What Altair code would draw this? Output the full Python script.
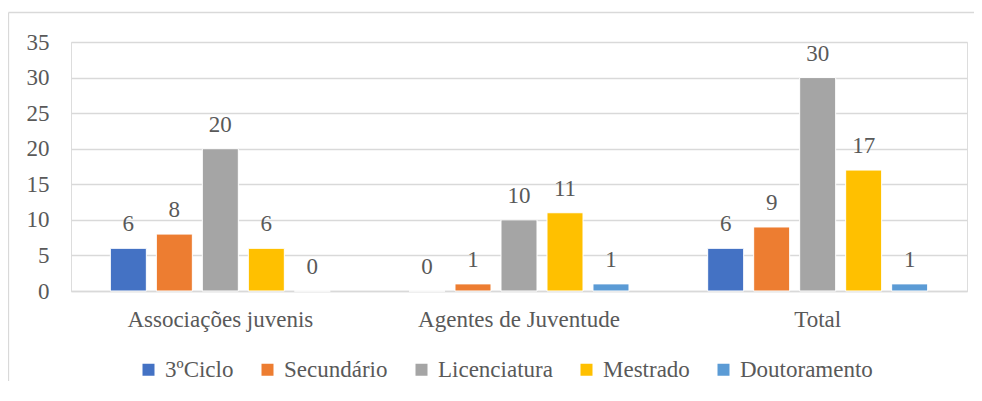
import altair as alt
import pandas as pd

categories = ["Associações juvenis", "Agentes de Juventude", "Total"]
series = ["3ºCiclo", "Secundário", "Licenciatura", "Mestrado", "Doutoramento"]
colors = ["#4472C4", "#ED7D31", "#A5A5A5", "#FFC000", "#5B9BD5"]
values_3ciclo = [6, 0, 6]
values_secundario = [8, 1, 9]
values_licenciatura = [20, 10, 30]
values_mestrado = [6, 11, 17]
values_doutoramento = [0, 1, 1]

all_vals = [values_3ciclo, values_secundario, values_licenciatura, values_mestrado, values_doutoramento]
rows = []
for s, vals in zip(series, all_vals):
    for c, v in zip(categories, vals):
        rows.append({"categoria": c, "nivel": s, "valor": v})
df = pd.DataFrame(rows)

FONT = "Liberation Serif, Times New Roman, serif"
TXT = "#595959"
W, H = 896, 249
PB = 90

x_enc = alt.X("categoria:N", sort=categories, title=None,
              scale=alt.Scale(paddingInner=0.2634, paddingOuter=0.1317),
              axis=alt.Axis(labelAngle=0, labelFont=FONT, labelFontSize=23, labelColor=TXT,
                            labelPadding=17, labelLimit=0, ticks=False, domain=True,
                            domainColor="#D9D9D9", domainWidth=1.3))
xo_enc = alt.XOffset("nivel:N", sort=series,
                     scale=alt.Scale(paddingInner=0.217, paddingOuter=0))
y_enc = alt.Y("valor:Q", title=None,
              scale=alt.Scale(domain=[0, 35], nice=False),
              axis=alt.Axis(values=[0, 5, 10, 15, 20, 25, 30, 35], grid=True, gridColor="#D9D9D9",
                            gridWidth=1.3, domain=False, ticks=False, labelFont=FONT,
                            labelFontSize=23, labelColor=TXT, labelPadding=22,
                            labelOverlap=False))
color_enc = alt.Color("nivel:N", sort=series,
                      scale=alt.Scale(domain=series, range=colors),
                      legend=alt.Legend(title=None, orient="none", direction="horizontal",
                                        legendX=66, legendY=316, symbolType="square",
                                        symbolSize=144, symbolStrokeWidth=0, labelFont=FONT,
                                        labelFontSize=23, labelColor=TXT, labelOffset=5,
                                        columnPadding=22, padding=0, labelLimit=0))

one = alt.Data(values=[{"a": 1}])
frame_left = alt.Chart(one).mark_rule(color="#D9D9D9", strokeWidth=1.3).encode(
    x=alt.value(-62.5), y=alt.value(-29.5), y2=alt.value(H + PB))
frame_top = alt.Chart(one).mark_rule(color="#D9D9D9", strokeWidth=1.3).encode(
    y=alt.value(-29.5), x=alt.value(-62.5), x2=alt.value(W + 7))

bars = alt.Chart(df).mark_bar(stroke="white", strokeWidth=1).encode(
    x=x_enc, xOffset=xo_enc, y=y_enc, color=color_enc
)

labels = alt.Chart(df).mark_text(
    font=FONT, fontSize=23, color=TXT, baseline="alphabetic", dy=-17
).encode(
    x=x_enc, xOffset=xo_enc, y=y_enc, text="valor:Q"
)

chart = alt.layer(frame_left, frame_top, bars, labels).properties(
    width=W, height=H,
    autosize=alt.AutoSizeParams(type="none"),
    padding={"left": 63, "top": 34, "right": 7, "bottom": PB},
    background="white",
).configure_view(stroke=None).configure(font=FONT)

chart.save("out.html", embed_options={"renderer": "svg", "actions": False})
